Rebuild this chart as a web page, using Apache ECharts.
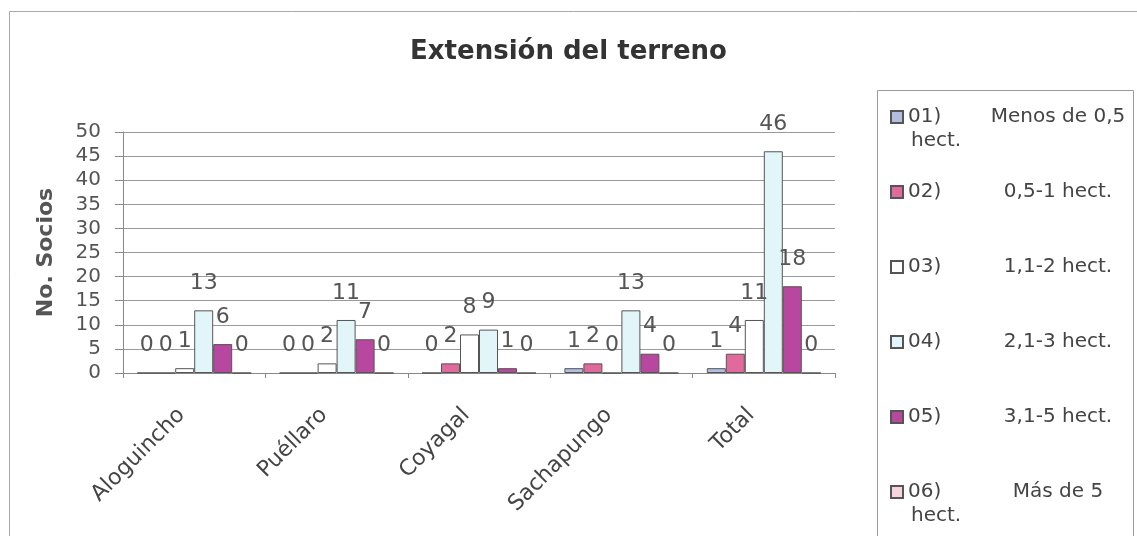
<!DOCTYPE html>
<html>
<head>
<meta charset="utf-8">
<script src="https://cdn.jsdelivr.net/npm/echarts@6/dist/echarts.min.js"></script>
<style>
  html, body { margin: 0; padding: 0; background: #ffffff; }
  #chart { width: 1137px; height: 536px; }
</style>
</head>
<body>
<div id="chart"></div>
<script>
// Farm-size distribution of members per community
var categories = ['Aloguincho', 'Puéllaro', 'Coyagal', 'Sachapungo', 'Total'];

var seriesCodes = ['01)', '02)', '03)', '04)', '05)', '06)'];
var seriesNames = ['Menos de 0,5 hect.', '0,5-1 hect.', '1,1-2 hect.', '2,1-3 hect.', '3,1-5 hect.', 'Más de 5 hect.'];

var menos05 = [0, 0, 0, 1, 1];
var de05a1  = [0, 0, 2, 2, 4];
var de11a2  = [1, 2, 8, 0, 11];
var de21a3  = [13, 11, 9, 13, 46];
var de31a5  = [6, 7, 1, 4, 18];
var mas5    = [0, 0, 0, 0, 0];

var yTicks = { min: 0, max: 50, interval: 5 };

var seriesValues = [menos05, de05a1, de11a2, de21a3, de31a5, mas5];
var seriesColors = ['#b3bde0', '#e06a9c', '#ffffff', '#e2f6fa', '#b7479f', '#f6d4dc'];

var FONT = 'DejaVu Sans';

var series = seriesValues.map(function (vals, i) {
  return {
    name: seriesCodes[i] + ' ' + seriesNames[i],
    type: 'bar',
    data: vals,
    barWidth: 19,
    barGap: '0%',
    itemStyle: { color: seriesColors[i], borderColor: '#555555', borderWidth: 1 },
    label: {
      show: true,
      position: 'top',
      distance: 16,
      fontFamily: FONT,
      fontSize: 22,
      color: '#555555'
    }
  };
});

// Legend entries: code, centred range text, and a wrapped last word for long names
function legendLabel(name) {
  var idx = series.findIndex(function (s) { return s.name === name; });
  var code = seriesCodes[idx];
  var text = seriesNames[idx];
  var first = text, second = ' ';
  if (text.length > 11) {
    var cut = text.lastIndexOf(' ');
    first = text.slice(0, cut);
    second = text.slice(cut + 1);
  }
  return '{code|' + code + '}{range|' + first + '}\n{wrap|' + second + '}';
}

var chart = echarts.init(document.getElementById('chart'), null, { renderer: 'canvas' });

chart.setOption({
  backgroundColor: '#ffffff',
  animation: false,
  title: {
    text: 'Extensión del terreno',
    left: 'center',
    top: 34,
    textStyle: { fontFamily: FONT, fontSize: 26, fontWeight: 'bold', color: '#333333' }
  },
  graphic: [
    {
      type: 'polyline',
      shape: { points: [[9.5, 620], [9.5, 11.5], [1200, 11.5]] },
      style: { fill: 'none', stroke: '#a8a8a8', lineWidth: 1 },
      silent: true
    },
    {
      type: 'rect',
      shape: { x: 877.5, y: 90.5, width: 256, height: 500 },
      style: { fill: 'none', stroke: '#9a9a9a', lineWidth: 1 },
      silent: true
    }
  ],
  legend: {
    orient: 'vertical',
    left: 890,
    top: 81,
    padding: 0,
    itemGap: 3,
    itemWidth: 12,
    itemHeight: 12,
    icon: 'rect',
    formatter: legendLabel,
    textStyle: {
      fontFamily: FONT,
      fontSize: 20,
      color: '#444444',
      padding: [24, 0, 0, 0],
      backgroundColor: 'rgba(0,0,0,0)',
      rich: {
        code: { fontFamily: FONT, fontSize: 20, color: '#444444', width: 50, lineHeight: 24 },
        range: { fontFamily: FONT, fontSize: 20, color: '#444444', width: 200, align: 'center', lineHeight: 24 },
        wrap: { fontFamily: FONT, fontSize: 20, color: '#444444', lineHeight: 24, padding: [0, 0, 0, 3] }
      }
    }
  },
  grid: { left: 123, right: 302, top: 132, bottom: 163, containLabel: false },
  xAxis: {
    type: 'category',
    data: categories,
    axisLine: { show: true, lineStyle: { color: '#888888', width: 1 } },
    axisTick: { show: true, length: 5, lineStyle: { color: '#888888' } },
    axisLabel: {
      rotate: 45,
      margin: 26,
      padding: [0, 18, 0, 0],
      fontFamily: FONT,
      fontSize: 22,
      color: '#444444'
    }
  },
  yAxis: {
    type: 'value',
    min: yTicks.min,
    max: yTicks.max,
    interval: yTicks.interval,
    name: 'No. Socios',
    nameLocation: 'middle',
    nameRotate: 90,
    nameGap: 66,
    nameTextStyle: { fontFamily: FONT, fontSize: 22, fontWeight: 'bold', color: '#555555' },
    axisLine: { show: true, lineStyle: { color: '#888888', width: 1 } },
    axisTick: { show: true, length: 8, lineStyle: { color: '#888888' } },
    axisLabel: { margin: 22, fontFamily: FONT, fontSize: 20, color: '#555555' },
    splitLine: { show: true, lineStyle: { color: '#9a9a9a', width: 1 } }
  },
  series: series
});
</script>
</body>
</html>
